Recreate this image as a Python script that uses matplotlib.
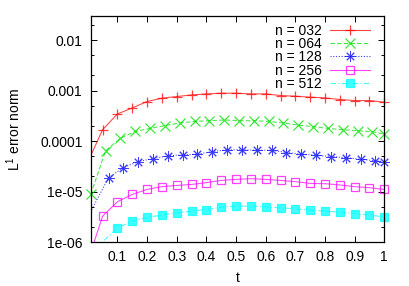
import matplotlib
matplotlib.use('Agg')
import matplotlib.pyplot as plt
import matplotlib.ticker as ticker
import numpy as np

plt.rcParams['font.family'] = ['Liberation Sans', 'DejaVu Sans']
plt.rcParams['mathtext.fontset'] = 'custom'
plt.rcParams['mathtext.rm'] = 'Liberation Sans'
plt.rcParams['font.size'] = 10

# error norms (t, L1 error)
t_032 = [0.0, 0.05, 0.10, 0.15, 0.20, 0.25, 0.30, 0.35, 0.40, 0.45, 0.50,
         0.55, 0.60, 0.65, 0.70, 0.75, 0.80, 0.85, 0.90, 0.95, 1.0]
e_032 = [3.8e-5, 1.68e-4, 3.44e-4, 4.52e-4, 6.07e-4, 7.06e-4, 7.62e-4, 8.20e-4,
         8.59e-4, 8.87e-4, 8.87e-4, 8.59e-4, 8.59e-4, 7.98e-4, 7.74e-4, 7.40e-4,
         7.16e-4, 6.65e-4, 6.35e-4, 6.35e-4, 5.88e-4]

t_064 = [0.01, 0.06, 0.11, 0.16, 0.21, 0.26, 0.31, 0.36, 0.41, 0.46, 0.51,
         0.56, 0.61, 0.66, 0.71, 0.76, 0.81, 0.86, 0.91, 0.96, 1.0]
e_064 = [8.75e-6, 6.41e-5, 1.13e-4, 1.55e-4, 1.78e-4, 2.02e-4, 2.28e-4, 2.45e-4,
         2.53e-4, 2.61e-4, 2.53e-4, 2.53e-4, 2.45e-4, 2.28e-4, 2.07e-4, 1.93e-4,
         1.78e-4, 1.68e-4, 1.60e-4, 1.53e-4, 1.37e-4]

t_128 = [0.0, 0.07, 0.12, 0.17, 0.22, 0.27, 0.32, 0.37, 0.42, 0.47, 0.52,
         0.57, 0.62, 0.67, 0.72, 0.77, 0.82, 0.87, 0.92, 0.97, 1.0]
e_128 = [3.1e-6, 1.88e-5, 2.98e-5, 3.93e-5, 4.50e-5, 5.09e-5, 5.33e-5, 5.48e-5,
         6.21e-5, 6.71e-5, 6.71e-5, 6.59e-5, 6.59e-5, 5.93e-5, 5.48e-5, 5.24e-5,
         4.93e-5, 4.71e-5, 4.36e-5, 4.05e-5, 3.93e-5]

t_256 = [0.0, 0.05, 0.10, 0.15, 0.20, 0.25, 0.30, 0.35, 0.40, 0.45, 0.50,
         0.55, 0.60, 0.65, 0.70, 0.75, 0.80, 0.85, 0.90, 0.95, 1.0]
e_256 = [4.1e-7, 3.25e-6, 6.27e-6, 8.75e-6, 1.10e-5, 1.25e-5, 1.32e-5, 1.38e-5,
         1.50e-5, 1.66e-5, 1.74e-5, 1.80e-5, 1.74e-5, 1.66e-5, 1.57e-5, 1.45e-5,
         1.43e-5, 1.35e-5, 1.25e-5, 1.19e-5, 1.10e-5]

t_512 = [0.0, 0.10, 0.15, 0.20, 0.25, 0.30, 0.35, 0.40, 0.45, 0.50,
         0.55, 0.60, 0.65, 0.70, 0.75, 0.80, 0.85, 0.90, 0.95, 1.0]
e_512 = [5.4e-7, 1.90e-6, 2.58e-6, 3.10e-6, 3.40e-6, 3.78e-6, 4.09e-6, 4.40e-6,
         4.91e-6, 5.14e-6, 5.14e-6, 4.98e-6, 4.76e-6, 4.54e-6, 4.27e-6, 4.09e-6,
         3.90e-6, 3.66e-6, 3.40e-6, 3.15e-6]

labels = ['n = 032', 'n = 064', 'n = 128', 'n = 256', 'n = 512']
xticks = [0.1, 0.2, 0.3, 0.4, 0.5, 0.6, 0.7, 0.8, 0.9, 1.0]
xticklabels = ['0.1', '0.2', '0.3', '0.4', '0.5', '0.6', '0.7', '0.8', '0.9', '1']
yticks = [1e-6, 1e-5, 1e-4, 1e-3, 1e-2]
yticklabels = ['1e-06', '1e-05', '0.0001', '0.001', '0.01']

xmin, xmax = 0.01, 1.0
ymin, ymax = 1e-6, 0.03

series = [(t_032, e_032), (t_064, e_064), (t_128, e_128), (t_256, e_256), (t_512, e_512)]
colors = ['#ff0000', '#00e000', '#0000ff', '#ff00ff', '#00ffff']
lstyles = ['-', (0, (4, 2)), (0, (1, 1.5)), '-', (0, (5, 2, 1, 2))]
markers = ['+', 'x', (8, 2, 0), 's', 's']
msizes = [7.5, 6.5, 7.5, 6, 5.5]
mfaces = ['none', 'none', 'none', 'none', '#00ffff']
mwidths = [0.9, 0.9, 0.7, 0.9, 0.9]

fig = plt.figure(figsize=(4.09, 2.86), dpi=100)
ax = fig.add_axes([0.2218, 0.1538, 0.7178, 0.7902])

for (t, e), lab, c, ls, m, ms, mf, mw in zip(series, labels, colors, lstyles,
                                              markers, msizes, mfaces, mwidths):
    t = np.array(t)
    e = np.array(e)
    ax.plot(t, e, color=c, linestyle=ls, linewidth=0.8, alpha=0.7)
    vis = (t >= xmin) & (e >= ymin)
    ax.plot(t[vis], e[vis], linestyle='none', marker=m, markersize=ms,
            markeredgecolor=c, markerfacecolor=mf, markeredgewidth=mw,
            alpha=0.75, clip_on=False)
    # legend handle
    ax.plot([], [], color=c, linestyle=ls, linewidth=0.8, marker=m, markersize=ms,
            markeredgecolor=c, markerfacecolor=mf, markeredgewidth=mw,
            alpha=0.75, label=lab)

ax.set_yscale('log')
ax.set_xlim(xmin, xmax)
ax.set_ylim(ymin, ymax)
ax.set_xticks(xticks)
ax.set_xticklabels(xticklabels)
ax.set_yticks(yticks)
ax.set_yticklabels(yticklabels)
ax.yaxis.set_minor_locator(ticker.LogLocator(base=10, subs=(2.0, 5.0)))
ax.yaxis.set_minor_formatter(ticker.NullFormatter())
ax.tick_params(which='both', direction='in', top=True, right=True, colors='black')
ax.tick_params(which='major', length=4, width=0.7, pad=6)
ax.tick_params(which='minor', length=2.2, width=0.7)
for s in ax.spines.values():
    s.set_linewidth(0.9)

ax.set_xlabel('t', labelpad=5)
ax.set_ylabel(r'L$^{1}$ error norm', labelpad=12)

ax.legend(loc='upper right', frameon=False, markerfirst=False, numpoints=1,
          handlelength=2.9, handletextpad=0.6, labelspacing=-0.05,
          borderpad=0.2, borderaxespad=0.3, bbox_to_anchor=(0.975, 0.997))

fig.savefig('out.png', dpi=100)
